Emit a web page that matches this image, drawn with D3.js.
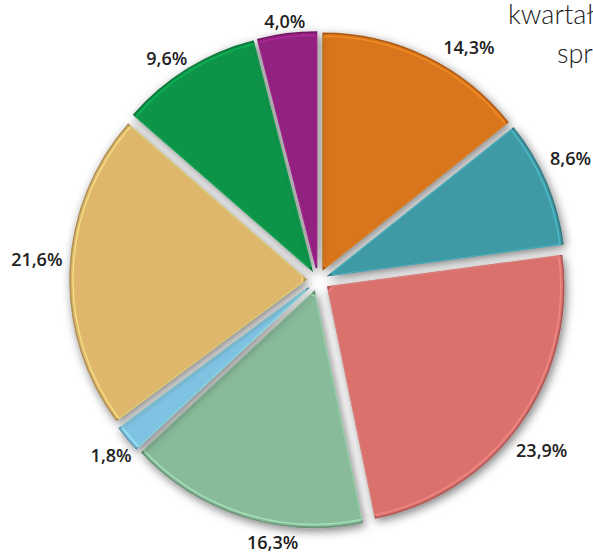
<!DOCTYPE html>
<html lang="pl">
<head>
  <meta charset="UTF-8">
  <title>Udział w sprzedaży</title>
  <script src="https://d3js.org/d3.v7.min.js"></script>
  <style>
    html, body { margin: 0; padding: 0; background: #fff; overflow: hidden; }
    svg { display: block; }
  </style>
</head>
<body>
  <div id="chart"></div>
  <script>
    // Slice data, clockwise from 12 o'clock
    const labels = ["14,3%", "8,6%", "23,9%", "16,3%", "1,8%", "21,6%", "9,6%", "4,0%"];
    const values = [14.3, 8.6, 23.9, 16.3, 1.8, 21.6, 9.6, 4.0];
    const colors = ["#d9741d", "#3f9aa6", "#da716d", "#88bb9a", "#7fc3e3", "#dfb76c", "#0d9448", "#91207f"];
    const titleLines = ["kwartału", "sprzedaży"];

    const width = 593, height = 554;
    const cx = 318, cy = 280;
    const radius = 236, explode = 12;
    // label placement tweaks (angle in degrees, distance) to sit like the original
    const labelNudge = [7.3, -2.5, 1.9, -7.8, -0.4, 2.0, -2.7, -0.1];
    const labelDist = [277, 280, 281, 266, 271, 282, 268, 261];

    const svg = d3.select("#chart").append("svg")
      .attr("width", width)
      .attr("height", height)
      .attr("viewBox", [0, 0, width, height]);

    const defs = svg.append("defs");
    const shadow = defs.append("filter")
      .attr("id", "shadow")
      .attr("x", "-20%").attr("y", "-20%")
      .attr("width", "140%").attr("height", "140%");
    shadow.append("feDropShadow")
      .attr("dx", 2).attr("dy", 3)
      .attr("stdDeviation", 5)
      .attr("flood-color", "#000")
      .attr("flood-opacity", 0.5);

    const pie = d3.pie().sort(null).value(d => d)(values);
    const arc = d3.arc().innerRadius(0).outerRadius(radius);
    const bevel = d3.arc().innerRadius(4).outerRadius(radius - 3);
    const mid = d => (d.startAngle + d.endAngle) / 2;

    const g = svg.append("g").attr("transform", `translate(${cx},${cy})`);

    const slices = g.selectAll(".slice")
      .data(pie)
      .join("g")
      .attr("class", "slice")
      .attr("transform", d => `translate(${Math.sin(mid(d)) * explode},${-Math.cos(mid(d)) * explode})`);

    slices.append("path")
      .attr("d", arc)
      .attr("fill", (d, i) => colors[i])
      .attr("stroke", (d, i) => d3.color(colors[i]).darker(0.7))
      .attr("stroke-width", 1.5)
      .attr("filter", "url(#shadow)");

    slices.append("path")
      .attr("d", bevel)
      .attr("fill", "none")
      .attr("stroke", (d, i) => d3.color(colors[i]).brighter(0.8))
      .attr("stroke-opacity", 0.6)
      .attr("stroke-width", 1.5);

    // labels
    const labelAngle = (d, i) => mid(d) + labelNudge[i] * Math.PI / 180;
    g.selectAll(".label")
      .data(pie)
      .join("text")
      .attr("class", "label")
      .attr("x", (d, i) => Math.sin(labelAngle(d, i)) * labelDist[i])
      .attr("y", (d, i) => -Math.cos(labelAngle(d, i)) * labelDist[i])
      .attr("text-anchor", "middle")
      .attr("dy", "0.36em")
      .attr("font-family", "'Open Sans', 'DejaVu Sans', sans-serif")
      .attr("font-weight", 600)
      .attr("font-size", 18)
      .attr("fill", "#222")
      .text((d, i) => labels[i]);

    // title fragment, clipped by the right edge
    svg.append("text")
      .attr("font-family", "Lato, 'Open Sans', sans-serif")
      .attr("font-weight", 300)
      .attr("font-size", 27)
      .attr("fill", "#222")
      .selectAll("tspan")
      .data(titleLines)
      .join("tspan")
      .attr("x", (d, i) => i === 0 ? 508 : 557)
      .attr("y", (d, i) => i === 0 ? 24 : 63)
      .text(d => d);
  </script>
</body>
</html>
